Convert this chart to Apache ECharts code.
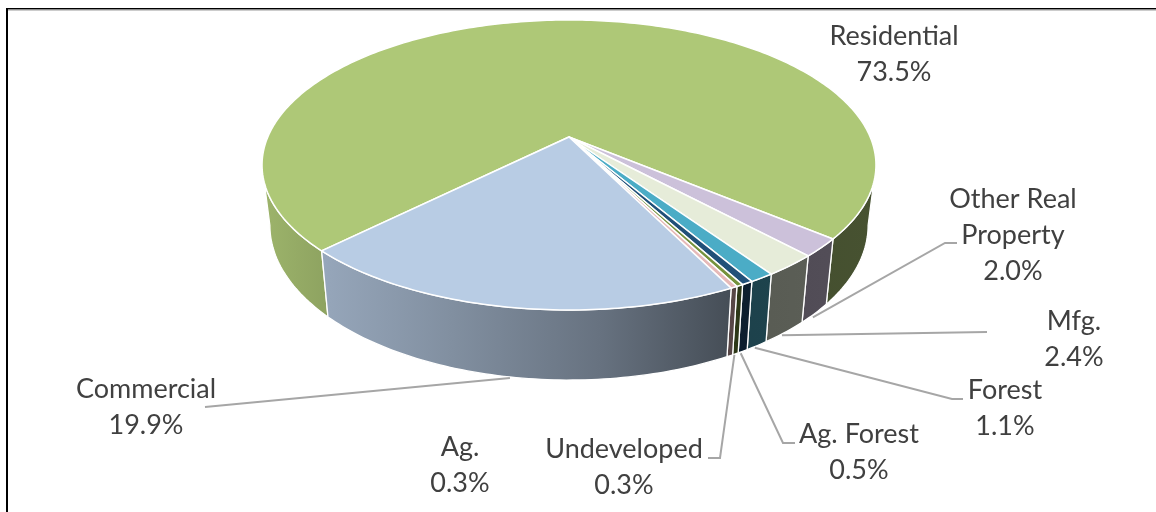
<!DOCTYPE html>
<html>
<head>
<meta charset="utf-8">
<style>
  html, body { margin: 0; padding: 0; background: #ffffff; }
  #chart { width: 1156px; height: 512px; }
</style>
<script src="https://cdn.jsdelivr.net/npm/echarts@6/dist/echarts.min.js"></script>
</head>
<body>
<div id="chart"></div>
<script>
// data, clockwise starting from Residential
var categories = ['Residential', 'Other Real\nProperty', 'Mfg.', 'Forest', 'Ag. Forest', 'Undeveloped', 'Ag.', 'Commercial'];
var shares = [73.5, 2.0, 2.4, 1.1, 0.5, 0.3, 0.3, 19.9];

// styles, same order as categories
var sliceColors = ['#AEC877', '#CCC1DA', '#E6ECD9', '#4BACC6', '#215078', '#76923C', '#E6B9B8', '#B8CCE4'];

// label centre and first row, then leader line points from the label towards the pie
var labelCenters = [[894, 36], [1013, 199], [1074, 321], [1005, 390], [859, 434], [624, 449], [460, 447], [146, 389]];
var leaderPaths = [null, [[957, 243], [945, 243]], [[987, 332]], [[963, 399], [952, 399]], [[795, 443], [783, 443]], [[708, 458], [720, 458]], null, [[205, 407]]];
var leaderOffsets = [null, [-2, 4], [-3, 3], [-2, 2], [-2, 2], [-1, 1], null, [0, 1]];

var firstAngle = 135.2; // where Residential starts, degrees clockwise from 3 o'clock

// perspective disc: the apex sits above the middle of the ellipse
var topDisc = { cx: 569, cy: 137, r: 301.2, b: 139.6, k: 0.193 };
var baseDisc = { cx: 569, cy: 195.4, r: 293.5, b: 149, k: 0.193 };

// angle where the disc is widest on screen, the wall outline runs straight between the two rims there
var edgeAngle = Math.asin(topDisc.k) * 180 / Math.PI;

// wall shading, left to right
var wallShade = [[0, 0.9], [0.11, 0.81], [0.31, 0.7], [0.55, 0.56], [0.76, 0.38], [1, 0.41]];

function rimPoint(disc, deg) {
  var a = deg * Math.PI / 180;
  var u = Math.cos(a), v = Math.sin(a);
  var w = 1 - disc.k * v;
  return [disc.cx + disc.r * u / w, disc.cy + disc.b * v / w];
}

function arcPoints(disc, from, to) {
  var pts = [];
  var steps = Math.max(2, Math.ceil(Math.abs(to - from)));
  for (var i = 0; i <= steps; i++) {
    pts.push(rimPoint(disc, from + (to - from) * i / steps));
  }
  return pts;
}

// start and end angle of every slice
var sliceAngles = [];
var running = firstAngle;
for (var n = 0; n < shares.length; n++) {
  sliceAngles.push([running, running + shares[n] * 3.6]);
  running += shares[n] * 3.6;
}

function wallFill(color) {
  var r = parseInt(color.slice(1, 3), 16), g = parseInt(color.slice(3, 5), 16), b = parseInt(color.slice(5, 7), 16);
  return {
    type: 'linear', x: 262, y: 0, x2: 876, y2: 0, global: true,
    colorStops: wallShade.map(function (s) {
      return { offset: s[0], color: 'rgb(' + Math.round(r * s[1]) + ',' + Math.round(g * s[1]) + ',' + Math.round(b * s[1]) + ')' };
    })
  };
}

function wallPolygon(from, to, color) {
  var pts = arcPoints(topDisc, from, to).concat(arcPoints(baseDisc, to, from));
  return { type: 'polygon', shape: { points: pts }, style: { fill: wallFill(color), stroke: '#ffffff', lineWidth: 1.3 } };
}

// walls: only the part that faces the viewer, the slice tops cover the rest
function renderWall(params) {
  var i = params.dataIndex;
  var from = sliceAngles[i][0], to = sliceAngles[i][1];
  var children = [];
  if (to - from > 200) {
    // big slice wraps round the back, draw its two visible ends
    children.push(wallPolygon(from, 180 - edgeAngle, sliceColors[i]));
    children.push(wallPolygon(360 + edgeAngle, to, sliceColors[i]));
  } else {
    children.push(wallPolygon(from, to, sliceColors[i]));
  }
  return { type: 'group', children: children };
}

function renderTop(params) {
  var i = params.dataIndex;
  var pts = [[topDisc.cx, topDisc.cy]].concat(arcPoints(topDisc, sliceAngles[i][0], sliceAngles[i][1]));
  return { type: 'polygon', shape: { points: pts }, style: { fill: sliceColors[i], stroke: '#ffffff', lineWidth: 1.5 } };
}

function renderLeader(params) {
  var i = params.dataIndex;
  if (!leaderPaths[i]) { return; }
  var anchor = rimPoint(baseDisc, (sliceAngles[i][0] + sliceAngles[i][1]) / 2);
  var pts = leaderPaths[i].concat([[anchor[0] + leaderOffsets[i][0], anchor[1] + leaderOffsets[i][1]]]);
  return { type: 'polyline', shape: { points: pts }, style: { fill: null, stroke: '#A6A6A6', lineWidth: 2 } };
}

function renderLabel(params) {
  var i = params.dataIndex;
  return {
    type: 'text',
    style: {
      x: labelCenters[i][0], y: labelCenters[i][1] - 18,
      text: categories[i] + '\n' + shares[i].toFixed(1) + '%',
      fill: '#404040',
      font: '27px Lato',
      lineHeight: 36,
      align: 'center',
      verticalAlign: 'top'
    }
  };
}

var pie3d = echarts.init(document.getElementById('chart'), null, { renderer: 'canvas' });

pie3d.setOption({
  animation: false,
  backgroundColor: '#ffffff',
  // frame of the pasted picture: only left and top edges
  graphic: [
    { type: 'rect', shape: { x: 6, y: 8, width: 2, height: 504 }, style: { fill: '#000000' } },
    { type: 'rect', shape: { x: 6, y: 8, width: 1150, height: 1.6 }, style: { fill: '#000000' } },
    { type: 'rect', shape: { x: 8, y: 9.6, width: 1148, height: 0.8 }, style: { fill: '#9a9a9a' } }
  ],
  series: [
    { type: 'custom', coordinateSystem: 'none', z: 1, silent: true, data: shares, renderItem: renderWall },
    { type: 'custom', coordinateSystem: 'none', z: 2, silent: true, data: shares, renderItem: renderTop },
    { type: 'custom', coordinateSystem: 'none', z: 3, silent: true, data: shares, renderItem: renderLeader },
    { type: 'custom', coordinateSystem: 'none', z: 4, silent: true, data: shares, renderItem: renderLabel }
  ]
});
</script>
</body>
</html>
